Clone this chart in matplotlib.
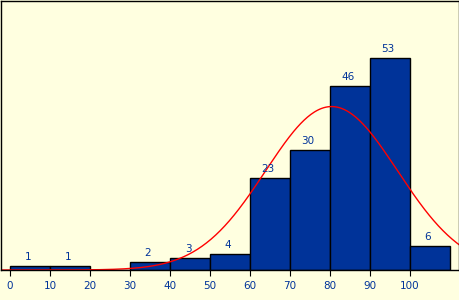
import numpy as np
import matplotlib
matplotlib.use('Agg')
import matplotlib.pyplot as plt

bin_edges = [0, 10, 20, 30, 40, 50, 60, 70, 80, 90, 100, 110]
counts = [1, 1, 0, 2, 3, 4, 23, 30, 46, 53, 6]
tick_vals = [0, 10, 20, 30, 40, 50, 60, 70, 80, 90, 100]
fit_mean = 80.4
fit_sd = 16.5

bg = '#ffffe0'
blue = '#003399'

fig = plt.figure(figsize=(4.6, 3.0), dpi=100, facecolor=bg)
ax = fig.add_axes([1/460, 30/300, 458/460, 269/300], facecolor=bg)

lefts = np.array(bin_edges[:-1])
widths = np.diff(bin_edges)
ax.bar(lefts, counts, width=widths, align='edge', color=blue,
       edgecolor='black', linewidth=1.0)

for x, w, c in zip(lefts, widths, counts):
    if c > 0:
        ax.text(x + w / 2 - 0.5, c + 0.9, str(c), ha='center', va='bottom',
                color=blue, fontsize=7.5)

# fitted normal curve scaled to counts
xs = np.linspace(-2.25, 112.25, 400)
n = sum(counts)
scale = n * 10 / (fit_sd * np.sqrt(2 * np.pi))
ys = scale * np.exp(-(xs - fit_mean) ** 2 / (2 * fit_sd ** 2))
ax.plot(xs, ys, color='red', linewidth=1.0)

ax.set_xlim(-2.25, 112.25)
ax.set_ylim(0, 67.25)
ax.set_xticks(tick_vals)
ax.set_xticklabels([str(t) for t in tick_vals], color=blue, fontsize=7.5)
ax.tick_params(axis='x', direction='out', length=4, width=0.8, pad=4)
ax.set_yticks([])
for s in ax.spines.values():
    s.set_linewidth(1.0)
    s.set_color('black')

fig.savefig('out.png', dpi=100, facecolor=bg)
